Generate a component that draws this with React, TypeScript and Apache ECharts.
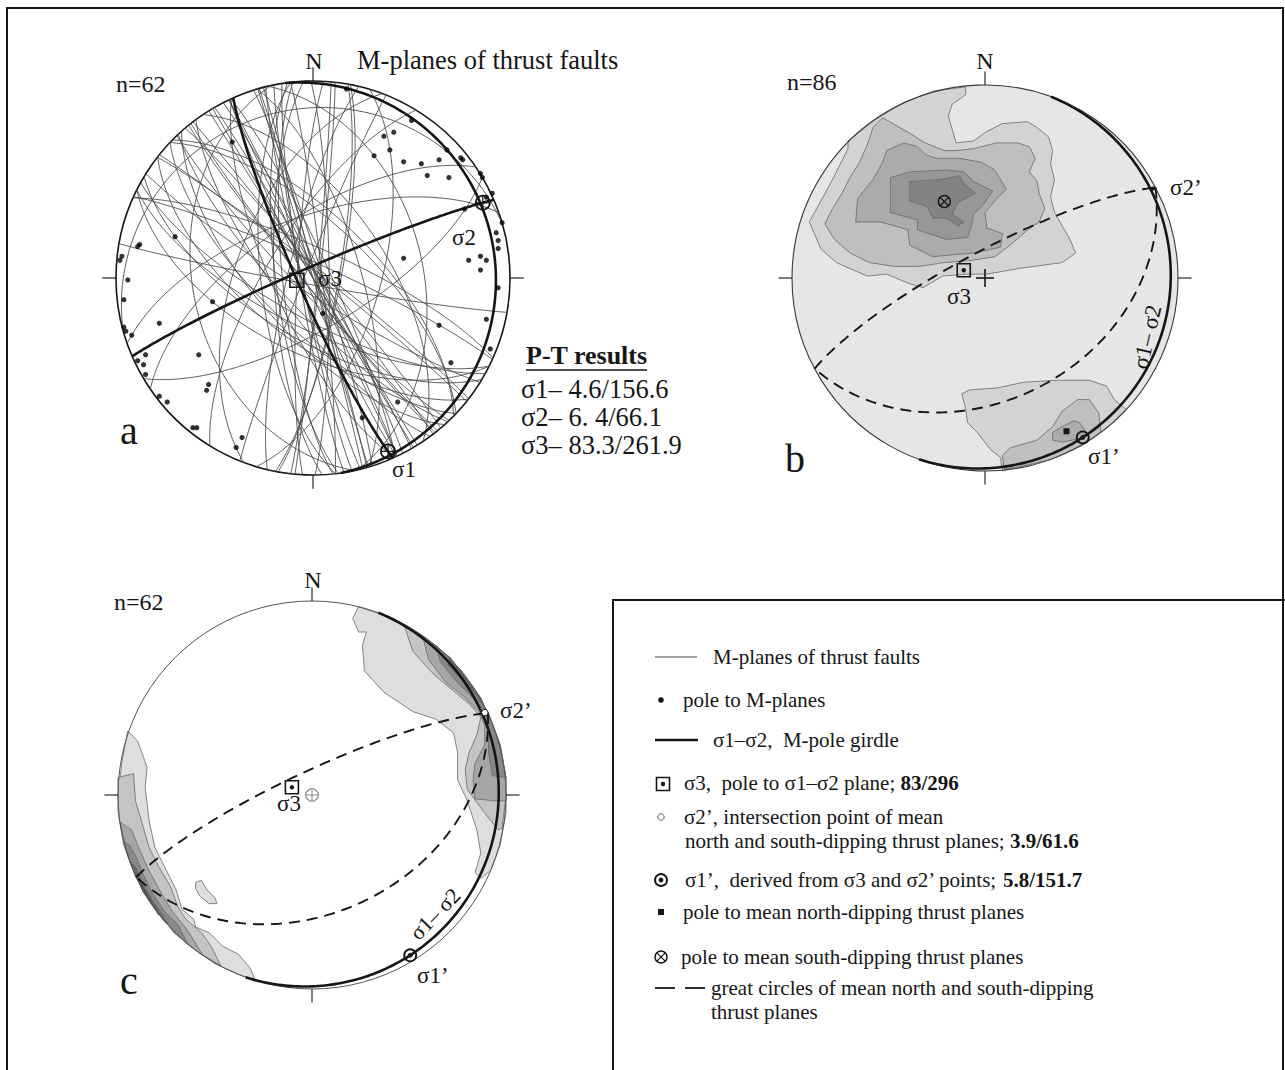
import React, { useEffect, useRef } from "react";
import * as echarts from "echarts";

const FONT = '"Liberation Serif", "Times New Roman", Times, serif';
const INK = "#161616";

// ---------------- DATA ----------------
// Net a: poles to M-planes, equal-area projected position (% of net radius, x = East, y = North)
const POLES_A: number[][] = [
  [17, 96], [50, 80], [41, 74], [36, 72], [39, 65], [31, 62], [46, 59], [55, 58], [64, 60], [68, 65],
  [75, 61], [76, 60], [58, 52], [69, 51], [85, 53], [86, 51], [88, 41], [91, 43], [77, 35], [96, 28],
  [93, 23], [94, 19], [94, 15], [85, 11], [79, 9], [88, 9], [85, 4], [94, -5], [46, 10], [64, -24],
  [88, -21], [90, -36], [70, -43], [43, -63], [25, -71], [5, -18], [-41, 69], [-70, 21], [-88, 17], [-89, 16],
  [-97, 11], [-98, 9], [-94, -1], [-96, -11], [-51, -12], [-78, -23], [-96, -25], [-95, -27], [-92, -29], [-58, -39],
  [-85, -39], [-89, -42], [-86, -44], [-85, -49], [-53, -54], [-54, -57], [-78, -60], [-74, -63], [-61, -76], [-59, -76],
  [-36, -81], [-39, -86],
];
// Net a: P-T results (plunge, trend) for σ1, σ2, σ3
const PT_A: number[][] = [[4.6, 156.6], [6.4, 66.1], [83.3, 261.9]];
const PT_LABELS: string[] = ["σ1– 4.6/156.6", "σ2– 6. 4/66.1", "σ3– 83.3/261.9"];
// Net a: σ1–σ2 girdle as drawn (dip direction, dip)
const GIRDLE_A: number[] = [81.9, 8];

// Nets b, c: mean north- and south-dipping thrust planes (dip direction, dip)
const MEAN_PLANES_B: number[][] = [[332, 79], [152, 37]];
const MEAN_PLANES_C: number[][] = [[335, 80], [155, 39]];
// σ1–σ2 girdle as drawn in b and c (dip direction, dip)
const GIRDLE_BC: number[] = [110, 4.5];
// plotted points (plunge, trend): σ3, σ2', σ1'
const POINTS_B: number[][] = [[80.5, 290], [1.5, 62], [3.5, 148.5]];
const POINTS_C: number[][] = [[81, 291], [1.5, 64.5], [3.5, 148.5]];

// Density contours (vertices in % of net radius), net b
const B_UPPER_L1 = [[-71, 71], [-57, 82], [-42, 91], [-26, 97], [-10, 99], [-10, 95], [-17, 90], [-19, 84], [-17, 77], [-15, 70], [-6, 71], [1, 76], [9, 80], [22, 81], [27, 78], [33, 73], [35, 66], [34, 59], [36, 51], [34, 42], [36, 34], [44, 20], [47, 13], [40, 8], [18, 5], [1, 2], [-9, 2], [-22, 1], [-32, -5], [-39, -3], [-51, 2], [-61, 1], [-68, 4], [-77, 8], [-85, 15], [-91, 29], [-79, 51], [-71, 67]];
const B_UPPER_L2 = [[-83, 28], [-79, 36], [-74, 44], [-70, 52], [-65, 60], [-61, 69], [-58, 78], [-53, 83], [-46, 79], [-39, 75], [-31, 70], [-21, 66], [-15, 66], [-6, 67], [6, 70], [17, 70], [23, 68], [26, 62], [23, 55], [27, 50], [28, 44], [31, 36], [28, 29], [21, 24], [13, 17], [5, 11], [-8, 9], [-21, 8], [-34, 6], [-47, 6], [-60, 8], [-70, 13], [-78, 20]];
const B_UPPER_L3 = [[-51, 66], [-42, 70], [-35, 68], [-31, 64], [-25, 62], [-13, 62], [-2, 60], [5, 56], [11, 46], [6, 41], [0, 34], [1, 26], [9, 23], [8, 16], [-5, 13], [-17, 12], [-27, 11], [-39, 17], [-40, 25], [-54, 29], [-67, 29], [-66, 41], [-58, 51], [-53, 60]];
const B_UPPER_L4 = [[-49, 52], [-39, 55], [-20, 56], [-11, 55], [-6, 50], [4, 45], [-1, 38], [-6, 33], [-7, 27], [-9, 21], [-20, 20], [-35, 25], [-35, 30], [-49, 34]];
const B_UPPER_L5 = [[-39, 50], [-23, 51], [-13, 53], [-11, 49], [-5, 44], [-14, 39], [-17, 33], [-11, 29], [-14, 27], [-20, 31], [-27, 31], [-30, 37], [-39, 40]];
const B_LOWER_L1 = [[-12, -60], [-8, -58], [6, -57], [20, -54], [37, -53], [54, -53], [63, -56], [67, -63], [73, -68], [64, -77], [57, -82], [46, -89], [34, -94], [22, -97], [9, -100], [8, -93], [3, -89], [-4, -80], [-9, -75], [-10, -68]];
const B_LOWER_L2 = [[9, -92], [13, -88], [27, -84], [35, -77], [40, -69], [48, -63], [54, -63], [59, -70], [60, -80], [50, -87], [34, -94], [17, -98], [10, -99]];
const B_LOWER_L3 = [[35, -80], [40, -77], [46, -74], [49, -75], [52, -79], [50, -83], [40, -85], [35, -84]];

// Density contours, net c
const C_RIGHT_L1 = [[24, 97], [42, 91], [57, 82], [71, 71], [82, 57], [91, 42], [97, 26], [100, 9], [100, -9], [97, -26], [92, -39], [87, -43], [84, -40], [87, -30], [85, -18], [80, -3], [75, 8], [75, 22], [73, 32], [64, 39], [52, 43], [37, 53], [27, 64], [26, 77], [28, 84], [24, 84], [21, 91]];
const C_RIGHT_L2 = [[48, 87], [64, 77], [77, 64], [87, 50], [94, 34], [98, 17], [100, 0], [98, -17], [96, -18], [88, -8], [80, 3], [79, 13], [81, 22], [85, 31], [87, 40], [81, 47], [70, 56], [62, 63], [52, 74], [48, 86]];
const C_RIGHT_L3 = [[57, 82], [71, 71], [82, 57], [91, 42], [97, 26], [100, 9], [100, -3], [94, -3], [84, -2], [83, 8], [84, 16], [89, 26], [89, 36], [86, 43], [78, 51], [69, 58], [60, 70]];
const C_RIGHT_L4 = [[64, 77], [77, 64], [87, 50], [93, 36], [97, 24], [100, 9], [93, 10], [91, 22], [91, 34], [89, 43], [82, 51], [74, 59], [66, 69]];
const C_RIGHT_L5 = [[71, 71], [82, 57], [91, 42], [89, 45], [84, 52], [77, 60], [70, 67]];
const C_LEFT_L1 = [[-95, 33], [-98, 17], [-100, 0], [-98, -17], [-94, -34], [-87, -50], [-77, -64], [-64, -77], [-50, -87], [-34, -94], [-29, -96], [-32, -89], [-38, -82], [-46, -78], [-53, -71], [-60, -68], [-61, -64], [-67, -59], [-70, -49], [-76, -37], [-81, -27], [-84, -13], [-86, 4], [-85, 14], [-87, 20], [-90, 28]];
const C_LEFT_L2 = [[-100, 9], [-100, -9], [-97, -26], [-91, -42], [-82, -57], [-71, -71], [-57, -82], [-47, -88], [-52, -78], [-57, -71], [-65, -64], [-69, -58], [-73, -47], [-79, -37], [-84, -27], [-88, -13], [-91, -3], [-92, 11]];
const C_LEFT_L3 = [[-99, -14], [-94, -34], [-87, -50], [-77, -64], [-64, -77], [-56, -83], [-64, -70], [-72, -60], [-78, -50], [-84, -39], [-89, -28], [-93, -18]];
const C_LEFT_L4 = [[-97, -24], [-91, -42], [-82, -57], [-71, -71], [-64, -77], [-69, -67], [-76, -60], [-82, -51], [-87, -41], [-91, -31], [-94, -26]];
const C_LEFT_L5 = [[-94, -34], [-87, -50], [-74, -67], [-77, -62], [-83, -53], [-88, -44], [-91, -37]];
const C_LEFT_L6 = [[-91, -41], [-85, -53], [-79, -62], [-81, -58], [-86, -49], [-89, -43]];
const C_ISLAND = [[-60, -45], [-57, -44], [-54, -49], [-50, -53], [-49, -56], [-53, -56], [-58, -52], [-60, -48]];

const CONTOURS_B: [number, number[][]][] = [
  [1, B_UPPER_L1], [2, B_UPPER_L2], [3, B_UPPER_L3], [4, B_UPPER_L4], [5, B_UPPER_L5],
  [1, B_LOWER_L1], [2, B_LOWER_L2], [3, B_LOWER_L3],
];
const CONTOURS_C: [number, number[][]][] = [
  [1, C_RIGHT_L1], [2, C_RIGHT_L2], [3, C_RIGHT_L3], [4, C_RIGHT_L4], [5, C_RIGHT_L5],
  [1, C_LEFT_L1], [2, C_LEFT_L2], [3, C_LEFT_L3], [4, C_LEFT_L4], [5, C_LEFT_L5], [6, C_LEFT_L6],
  [1, C_ISLAND],
];
const SHADES_B = ["#e6e6e6", "#d3d3d3", "#bfbfbf", "#ababab", "#979797", "#838383"];
const SHADES_C = ["#ffffff", "#dedede", "#c4c4c4", "#a6a6a6", "#888888", "#666666", "#4a4a4a"];

// ---------------- GEOMETRY ----------------
const D2R = Math.PI / 180;
function project(plunge: number, trend: number): number[] {
  const r = Math.SQRT2 * Math.sin(((90 - plunge) * D2R) / 2);
  return [r * Math.sin(trend * D2R), r * Math.cos(trend * D2R)];
}
function unproject(x: number, y: number): number[] {
  const r = Math.min(1, Math.hypot(x, y));
  const plunge = 90 - (2 * Math.asin(r / Math.SQRT2)) / D2R;
  const trend = (Math.atan2(x, y) / D2R + 360) % 360;
  return [plunge, trend];
}
function planeOfPole(plunge: number, trend: number): number[] {
  return [(trend + 180) % 360, 90 - plunge];
}
function poleOfPlane(dd: number, dip: number): number[] {
  return [90 - dip, (dd + 180) % 360];
}
function greatCircle(dd: number, dip: number): number[][] {
  const sA = (dd - 90) * D2R, dA = dd * D2R, dp = dip * D2R;
  const s = [Math.sin(sA), Math.cos(sA), 0];
  const d = [Math.sin(dA) * Math.cos(dp), Math.cos(dA) * Math.cos(dp), Math.sin(dp)];
  const out: number[][] = [];
  for (let t = 0; t <= 180; t += 1) {
    const c = Math.cos(t * D2R), n = Math.sin(t * D2R);
    const vx = c * s[0] + n * d[0], vy = c * s[1] + n * d[1], vz = c * s[2] + n * d[2];
    const pl = Math.asin(Math.max(-1, Math.min(1, vz))) / D2R;
    const tr = Math.atan2(vx, vy) / D2R;
    out.push(project(pl, tr));
  }
  return out;
}

// layout of the three nets (pixel boxes)
const NETS = [
  { cx: 313, cy: 278, r: 197 },
  { cx: 985, cy: 278, r: 193 },
  { cx: 312, cy: 795, r: 194 },
];

function custom(gi: number, data: any[], renderItem: any, z: number) {
  return {
    type: "custom", coordinateSystem: "cartesian2d", xAxisIndex: gi, yAxisIndex: gi,
    data, renderItem, clip: false, silent: true, z, animation: false,
  };
}

function diskRender(fill: string, stroke: string, lw: number, ticks: boolean) {
  return (_p: any, api: any) => {
    const c = api.coord([0, 0]);
    const r = api.coord([1, 0])[0] - c[0];
    const children: any[] = [
      { type: "circle", shape: { cx: c[0], cy: c[1], r }, style: { fill, stroke, lineWidth: lw } },
    ];
    if (ticks) {
      const dirs = [[0, 1], [1, 0], [0, -1], [-1, 0]];
      dirs.forEach(([dx, dy]) => {
        const a = api.coord([dx, dy]);
        const b = api.coord([dx * 1.07, dy * 1.07]);
        children.push({ type: "line", shape: { x1: a[0], y1: a[1], x2: b[0], y2: b[1] }, style: { stroke: INK, lineWidth: 1.1 } });
      });
    }
    return { type: "group", children };
  };
}

function gcRender(stroke: string, lw: number, dash?: number[]) {
  return (_p: any, api: any) => {
    const pts = greatCircle(api.value(0), api.value(1)).map((p) => api.coord(p));
    return {
      type: "polyline", shape: { points: pts },
      style: { fill: "none", stroke, lineWidth: lw, lineDash: dash || null, lineCap: "butt" },
    };
  };
}

function contourRender(list: [number, number[][]][], shades: string[]) {
  return (p: any, api: any) => {
    const item = list[p.dataIndex];
    const pts = item[1].map((v) => api.coord([v[0] / 100, v[1] / 100]));
    return { type: "polygon", shape: { points: pts }, style: { fill: shades[item[0]], stroke: "#6a6a6a", lineWidth: 0.8 } };
  };
}

function markerEl(kind: string, x: number, y: number): any {
  const ln = (x1: number, y1: number, x2: number, y2: number, w = 1.2, c = INK) => ({ type: "line", shape: { x1, y1, x2, y2 }, style: { stroke: c, lineWidth: w } });
  switch (kind) {
    case "target":
      return { type: "group", children: [
        { type: "circle", shape: { cx: x, cy: y, r: 7 }, style: { fill: "none", stroke: INK, lineWidth: 1.8 } },
        ln(x - 7, y, x + 7, y), ln(x, y - 7, x, y + 7)] };
    case "square":
      return { type: "rect", shape: { x: x - 7, y: y - 7, width: 14, height: 14 }, style: { fill: "none", stroke: INK, lineWidth: 1.6 } };
    case "squareDot":
      return { type: "group", children: [
        { type: "rect", shape: { x: x - 6.5, y: y - 6.5, width: 13, height: 13 }, style: { fill: "none", stroke: INK, lineWidth: 1.6 } },
        { type: "circle", shape: { cx: x, cy: y, r: 2.2 }, style: { fill: INK } }] };
    case "otimes":
      return { type: "group", children: [
        { type: "circle", shape: { cx: x, cy: y, r: 6 }, style: { fill: "none", stroke: INK, lineWidth: 1.4 } },
        ln(x - 4.2, y - 4.2, x + 4.2, y + 4.2), ln(x - 4.2, y + 4.2, x + 4.2, y - 4.2)] };
    case "odot":
      return { type: "group", children: [
        { type: "circle", shape: { cx: x, cy: y, r: 6 }, style: { fill: "none", stroke: INK, lineWidth: 1.9 } },
        { type: "circle", shape: { cx: x, cy: y, r: 2.4 }, style: { fill: INK } }] };
    case "smallSquare":
      return { type: "rect", shape: { x: x - 3, y: y - 3, width: 6, height: 6 }, style: { fill: INK } };
    case "dot":
      return { type: "circle", shape: { cx: x, cy: y, r: 2 }, style: { fill: INK } };
    case "openDot":
      return { type: "circle", shape: { cx: x, cy: y, r: 3.2 }, style: { fill: "#fff", stroke: INK, lineWidth: 1 } };
    case "plus":
      return { type: "group", children: [ln(x - 9, y, x + 9, y, 1.6), ln(x, y - 9, x, y + 9, 1.6)] };
    case "octo": {
      const pts: number[][] = [];
      for (let i = 0; i < 8; i++) { const a = (i * 45 + 22.5) * D2R; pts.push([x + 6.5 * Math.cos(a), y + 6.5 * Math.sin(a)]); }
      return { type: "group", children: [
        { type: "polygon", shape: { points: pts }, style: { fill: "none", stroke: "#8a8a8a", lineWidth: 1.2 } },
        ln(x - 7, y, x + 7, y, 1, "#8a8a8a"), ln(x, y - 7, x, y + 7, 1, "#8a8a8a")] };
    }
  }
  return { type: "group", children: [] };
}

function markerRender(kinds: string[]) {
  return (p: any, api: any) => {
    const c = api.coord([api.value(0), api.value(1)]);
    return markerEl(kinds[p.dataIndex], c[0], c[1]);
  };
}

// ---------------- TEXT ----------------
function txt(text: string, x: number, y: number, size: number, opt: any = {}) {
  const weight = opt.bold ? "bold" : "normal";
  const align = opt.align || "left";
  return {
    type: "text", x, y, rotation: opt.rotation || 0, silent: true, z: 100,
    style: {
      text, fill: INK,
      font: `${weight} ${size}px ${FONT}`, fontSize: size, fontFamily: FONT, fontWeight: weight,
      textAlign: align, align, textVerticalAlign: "middle", verticalAlign: "middle",
      rich: opt.rich,
    },
  };
}
const boldRich = (size: number) => ({ b: { fontWeight: "bold", fontSize: size, fontFamily: FONT, fill: INK } });

function buildOption() {
  const thickA = [planeOfPole(PT_A[1][0], PT_A[1][1]), planeOfPole(PT_A[0][0], PT_A[0][1]), GIRDLE_A];
  const thinA = POLES_A.map(([x, y]) => { const [pl, tr] = unproject(x / 100, y / 100); return planeOfPole(pl, tr); });

  const markersA = PT_A.map((v) => project(v[0], v[1]));
  const kindsA = ["target", "target", "square"];

  const poleN_B = poleOfPlane(MEAN_PLANES_B[0][0], MEAN_PLANES_B[0][1]);
  const poleS_B = poleOfPlane(MEAN_PLANES_B[1][0], MEAN_PLANES_B[1][1]);
  const markersB = [...POINTS_B, poleN_B, poleS_B].map((v) => project(v[0], v[1])).concat([[0, 0]]);
  const kindsB = ["squareDot", "dot", "odot", "smallSquare", "otimes", "plus"];

  const markersC = [[0, 0]].concat(POINTS_C.map((v) => project(v[0], v[1])));
  const kindsC = ["octo", "squareDot", "openDot", "odot"];

  const series: any[] = [
    // net a
    custom(0, [[0, 0]], diskRender("#ffffff", INK, 1.6, true), 1),
    custom(0, thinA, gcRender("#4a4a4a", 0.9), 2),
    custom(0, thickA, gcRender(INK, 2.6), 3),
    { type: "scatter", xAxisIndex: 0, yAxisIndex: 0, data: POLES_A.map((p) => [p[0] / 100, p[1] / 100]), symbolSize: 5.2, itemStyle: { color: "#000" }, silent: true, z: 4, animation: false },
    custom(0, markersA, markerRender(kindsA), 5),
    // net b
    custom(1, [[0, 0]], diskRender(SHADES_B[0], "none", 0, false), 1),
    custom(1, CONTOURS_B.map(() => [0, 0]), contourRender(CONTOURS_B, SHADES_B), 2),
    custom(1, [[0, 0]], diskRender("none", "#3a3a3a", 1.1, true), 3),
    custom(1, MEAN_PLANES_B, gcRender(INK, 1.9, [11, 7]), 4),
    custom(1, [GIRDLE_BC], gcRender(INK, 2.6), 4),
    custom(1, markersB, markerRender(kindsB), 5),
    // net c
    custom(2, CONTOURS_C.map(() => [0, 0]), contourRender(CONTOURS_C, SHADES_C), 2),
    custom(2, [[0, 0]], diskRender("none", "#555555", 1, true), 3),
    custom(2, MEAN_PLANES_C, gcRender(INK, 1.9, [11, 7]), 4),
    custom(2, [GIRDLE_BC], gcRender(INK, 2.6), 4),
    custom(2, markersC, markerRender(kindsC), 5),
  ];

  const L = 21; // legend font
  const g: any[] = [
    // frames
    { type: "rect", shape: { x: 7, y: 8, width: 1276, height: 1100 }, style: { fill: "none", stroke: INK, lineWidth: 2 }, silent: true },
    { type: "rect", shape: { x: 613, y: 600, width: 700, height: 600 }, style: { fill: "none", stroke: INK, lineWidth: 2 }, silent: true },
    // net a texts
    txt("N", 314, 61, 24, { align: "center" }),
    txt("M-planes of thrust faults", 357, 60, 26.5),
    txt("n=62", 116, 84, 24),
    txt("σ2", 452, 237, 23),
    txt("σ3", 318, 278, 23),
    txt("σ1", 392, 469, 23),
    txt("a", 120, 430, 40),
    txt("P-T results", 526, 355, 26, { bold: true }),
    { type: "line", shape: { x1: 526, y1: 370, x2: 647, y2: 370 }, style: { stroke: INK, lineWidth: 1.6 }, silent: true },
    txt(PT_LABELS[0], 521, 389, 26.5),
    txt(PT_LABELS[1], 521, 417, 26.5),
    txt(PT_LABELS[2], 521, 445, 26.5),
    // net b texts
    txt("N", 985, 61, 24, { align: "center" }),
    txt("n=86", 787, 82, 24),
    txt("σ2’", 1170, 187, 23),
    txt("σ3", 947, 296, 23),
    txt("σ1’", 1088, 456, 23),
    txt("σ1– σ2", 1147, 337, 23, { align: "center", rotation: 77 * D2R }),
    txt("b", 785, 458, 40),
    // net c texts
    txt("N", 313, 580, 24, { align: "center" }),
    txt("n=62", 114, 602, 24),
    txt("σ2’", 500, 710, 23),
    txt("σ3", 277, 803, 23),
    txt("σ1’", 417, 975, 23),
    txt("σ1– σ2", 435, 914, 22, { align: "center", rotation: 46 * D2R }),
    txt("c", 120, 980, 40),
    // legend glyphs
    { type: "line", shape: { x1: 655, y1: 657, x2: 697, y2: 657 }, style: { stroke: "#444", lineWidth: 1 } },
    { type: "circle", shape: { cx: 661, cy: 700, r: 2.8 }, style: { fill: INK } },
    { type: "line", shape: { x1: 655, y1: 740, x2: 698, y2: 740 }, style: { stroke: INK, lineWidth: 2.4 } },
    markerEl("squareDot", 663, 784),
    { type: "circle", shape: { cx: 661, cy: 817, r: 3.2 }, style: { fill: "#fff", stroke: "#555", lineWidth: 1 } },
    markerEl("odot", 661, 880),
    markerEl("smallSquare", 661, 912),
    markerEl("otimes", 661, 957),
    { type: "line", shape: { x1: 655, y1: 988, x2: 675, y2: 988 }, style: { stroke: INK, lineWidth: 1.8 } },
    { type: "line", shape: { x1: 685, y1: 988, x2: 705, y2: 988 }, style: { stroke: INK, lineWidth: 1.8 } },
    // legend texts
    txt("M-planes of thrust faults", 713, 657, L),
    txt("pole to M-planes", 683, 700, L),
    txt("σ1–σ2,  M-pole girdle", 713, 740, L),
    txt("σ3,  pole to σ1–σ2 plane; {b|83/296}", 684, 783, L, { rich: boldRich(L) }),
    txt("σ2’, intersection point of mean", 684, 817, L),
    txt("north and south-dipping thrust planes; {b|3.9/61.6}", 685, 841, L, { rich: boldRich(L) }),
    txt("σ1’,  derived from σ3 and σ2’ points; {b|5.8/151.7}", 685, 880, L, { rich: boldRich(L) }),
    txt("pole to mean north-dipping thrust planes", 683, 912, L),
    txt("pole to mean south-dipping thrust planes", 681, 957, L),
    txt("great circles of mean north and south-dipping", 711, 988, L),
    txt("thrust planes", 711, 1012, L),
  ];

  const axis = (i: number) => ({ type: "value", min: -1, max: 1, show: false, gridIndex: i });
  return {
    animation: false,
    backgroundColor: "#ffffff",
    grid: NETS.map((n) => ({ left: n.cx - n.r, top: n.cy - n.r, width: 2 * n.r, height: 2 * n.r, containLabel: false })),
    xAxis: [0, 1, 2].map(axis),
    yAxis: [0, 1, 2].map(axis),
    series,
    graphic: { elements: g },
  };
}

export default function App() {
  const ref = useRef<HTMLDivElement>(null);
  useEffect(() => {
    const chart = echarts.init(ref.current as HTMLDivElement, null, { renderer: "svg" });
    chart.setOption(buildOption() as any);
    return () => chart.dispose();
  }, []);
  return (
    <div
      ref={ref}
      style={{ position: "absolute", left: 0, top: 0, width: 1285, height: 1070, background: "#fff" }}
    />
  );
}
